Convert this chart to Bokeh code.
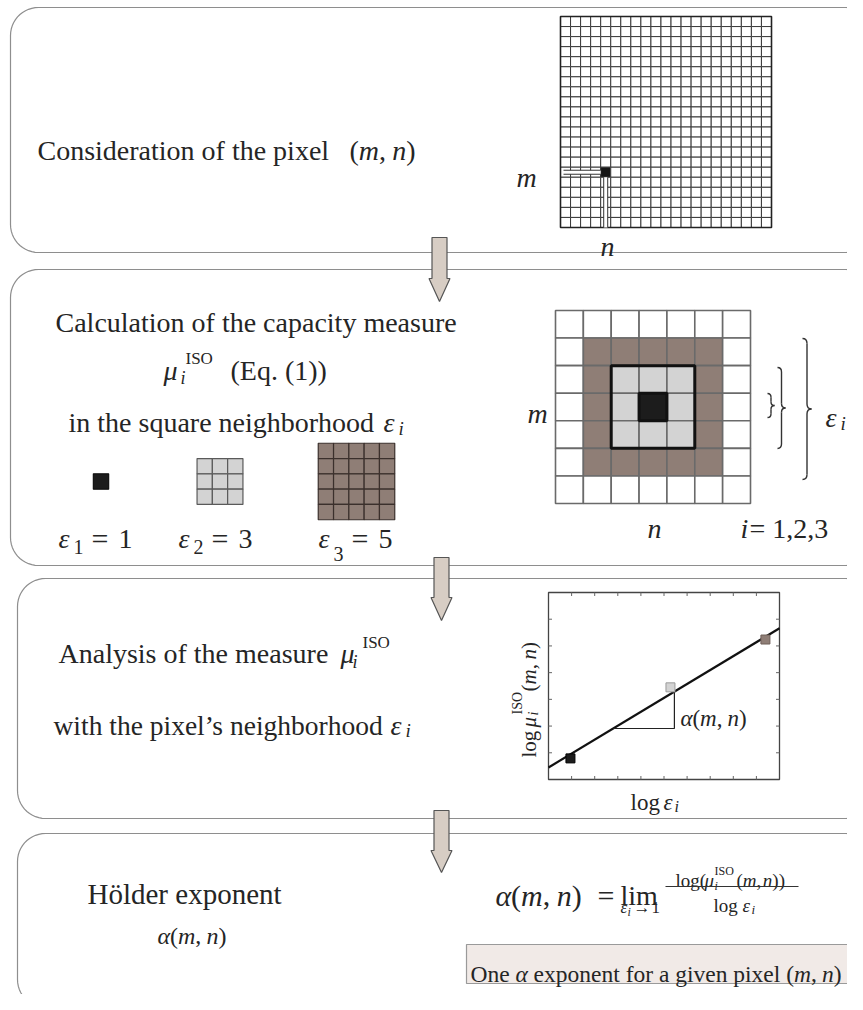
import numpy as np
from bokeh.plotting import figure
from bokeh.models import Range1d
from bokeh.core.properties import value
from bokeh.embed import file_html
from bokeh.resources import INLINE

# ---------------- data ----------------
GRID_N = 21                 # image grid in step 1
PIXEL_ROW, PIXEL_COL = 15, 4
NEIGH_N = 7                 # neighbourhood grid in step 2
EPS = [1, 3, 5]             # square neighbourhood sizes
EPS_COLORS = ["#1c1c1c", "#d3d3d3", "#8f7e76"]
EPS_EDGE = ["#111111", "#5a5a5a", "#3b302c"]
LOG_EPS = [0.95, 5.28, 9.39]        # log eps_i (inset axis units 0..10)
LOG_MU = [0.79, 3.45, 5.24]         # log mu_i (inset axis units 0..7)
FIT_X = [0.0, 10.0]
FIT_Y = [0.45, 5.66]
TRI_X = [2.81, 5.45, 5.45]
TRI_Y = [1.91, 1.91, 3.33]
X_TICKS = list(range(1, 10))
Y_TICKS = list(range(1, 7))
STEP_TEXT = ["Consideration of the pixel", "Calculation of the capacity measure",
             "in the square neighborhood", "Analysis of the measure",
             "with the pixel\u2019s neighborhood", "H\u00f6lder exponent"]

FONT = "Liberation Serif"
INK = "#252525"

# ---------------- canvas ----------------
p = figure(width=847, height=994, x_range=Range1d(0, 847), y_range=Range1d(-994, 0),
           output_backend="svg", toolbar_location=None, min_border=0)
p.axis.visible = False
p.grid.visible = False
p.outline_line_color = None
p.background_fill_color = "white"

ROMAN_W = {' ': 250, '(': 333, ')': 333, ',': 250, '.': 250, '\u2019': 333, '=': 564,
           'A': 722, 'C': 667, 'E': 611, 'H': 722, 'I': 333, 'O': 722, 'S': 556,
           'a': 444, 'b': 500, 'c': 444, 'd': 500, 'e': 444, 'f': 333, 'g': 500, 'h': 500,
           'i': 278, 'l': 278, 'm': 778, 'n': 500, 'o': 500, 'p': 500, 'q': 500, 'r': 333,
           's': 389, 't': 278, 'u': 500, 'v': 500, 'w': 722, 'x': 500, 'y': 500, '\u00f6': 500,
           '\u2192': 1000}
ITALIC_W = {'m': 722, 'n': 500, 'i': 278, '\u03b1': 520, '\u03b5': 430, '\u03bc': 520}


def tw(s, size, italic=False):
    tot = 0
    for ch in s:
        if italic and ch in ITALIC_W:
            tot += ITALIC_W[ch]
        else:
            tot += ROMAN_W.get(ch, 500)
    return tot / 1000.0 * size


def put(x, py, s, size, italic=False, angle=0.0, align="left", color=INK):
    p.text(x=[x], y=[-py], text=[s], angle=angle, text_font=value(FONT),
           text_font_size=f"{size:.1f}px", text_font_style="italic" if italic else "normal",
           text_align=align, text_baseline="alphabetic", text_color=color)


def seq(x, py, size, items):
    for it in items:
        s, ital = it[0], bool(it[1])
        sc = it[2] if len(it) > 2 else 1.0
        dy = it[3] if len(it) > 3 else 0
        gap = it[4] if len(it) > 4 else 0
        x += gap
        lead = len(s) - len(s.lstrip(" "))
        x += lead * tw(" ", size * sc)
        s = s.lstrip(" ")
        if s.strip():
            put(x, py + dy, s.rstrip(" "), size * sc, ital)
        x += tw(s, size * sc, ital)
    return x


def mn(x, py, size, lead=(), gap=0.22, tail=()):
    items = list(lead) + [("(", 0), ("m", 1), (",", 0), ("n", 1, 1.0, 0, size * gap), (")", 0)] + list(tail)
    return seq(x, py, size, items)


def rounded(x0, y0, x1, y1, r, n=14):
    xs, ys = [], []
    for cx, cy, a0 in [(x0 + r, y0 + r, np.pi), (x1 - r, y0 + r, 1.5 * np.pi),
                       (x1 - r, y1 - r, 0.0), (x0 + r, y1 - r, 0.5 * np.pi)]:
        t = np.linspace(a0, a0 + 0.5 * np.pi, n)
        xs.extend(cx + r * np.cos(t))
        ys.extend(-(cy + r * np.sin(t)))
    return xs, ys


# ---------------- panels ----------------
PANELS = [(10, 7, 874, 252), (10, 269, 874, 565), (17, 578, 874, 818), (17, 833, 874, 1007)]
for (x0, y0, x1, y1) in PANELS:
    xs, ys = rounded(x0, y0, x1, y1, 28)
    p.patch(xs, ys, fill_color="white", line_color="#8e8e8e", line_width=1.2)

# ---------------- step 1 : image grid ----------------
G_L, G_T, G_S = 560.0, 16.0, 211.0
c1 = G_S / GRID_N
rows, cols = np.meshgrid(np.arange(GRID_N), np.arange(GRID_N), indexing="ij")
rows, cols = rows.ravel(), cols.ravel()
fills = ["#161616" if (r == PIXEL_ROW and c == PIXEL_COL) else "white" for r, c in zip(rows, cols)]
p.rect(x=G_L + (cols + 0.5) * c1, y=-(G_T + (rows + 0.5) * c1), width=c1, height=c1,
       fill_color=fills, line_color="#3a3a3a", line_width=1)
p.rect(x=G_L + G_S / 2, y=-(G_T + G_S / 2), width=G_S, height=G_S, fill_color=None,
       line_color="#222222", line_width=1.6)
py_mid = G_T + (PIXEL_ROW + 0.5) * c1
px_mid = G_L + (PIXEL_COL + 0.5) * c1
p.quad(left=G_L + 3, right=G_L + PIXEL_COL * c1, top=-(py_mid - 2), bottom=-(py_mid + 2),
       fill_color="white", line_color=None)
p.quad(left=px_mid - 2, right=px_mid + 2, top=-(G_T + (PIXEL_ROW + 1) * c1), bottom=-(G_T + G_S),
       fill_color="white", line_color=None)
p.segment(x0=[G_L + 3, G_L + 3, px_mid - 2, px_mid + 2],
          y0=[-(py_mid - 2), -(py_mid + 2), -(G_T + (PIXEL_ROW + 1) * c1), -(G_T + (PIXEL_ROW + 1) * c1)],
          x1=[G_L + PIXEL_COL * c1, G_L + PIXEL_COL * c1, px_mid - 2, px_mid + 2],
          y1=[-(py_mid - 2), -(py_mid + 2), -(G_T + G_S), -(G_T + G_S)],
          line_color="#333333", line_width=1)

seq(37, 150, 28, [(STEP_TEXT[0], 0)])
mn(349, 150, 28)
put(516, 177, "m", 28, True)
put(600, 246, "n", 28, True)

# ---------------- step 2 ----------------
seq(55, 322, 28, [(STEP_TEXT[1], 0)])
put(163, 370, "\u03bc", 28, True)
put(180, 377, "i", 18, True)
put(185, 358, "ISO", 17)
put(230, 370, "(Eq. (1))", 28)
seq(68, 422, 28, [(STEP_TEXT[2], 0)])
put(383, 422, "\u03b5", 28, True)
put(398, 428, "i", 19, True)

# small neighbourhood squares
SQ_CX = [100.5, 219.5, 356.0]
SQ_CY = 481.0
cs = 15.3
for e, cx, fc, lc in zip(EPS, SQ_CX, EPS_COLORS, EPS_EDGE):
    rr, cc = np.meshgrid(np.arange(e), np.arange(e), indexing="ij")
    rr, cc = rr.ravel(), cc.ravel()
    p.rect(x=cx + (cc - (e - 1) / 2) * cs, y=-(SQ_CY + (rr - (e - 1) / 2) * cs), width=cs, height=cs,
           fill_color=fc, line_color=lc, line_width=1.2)

LBL_X = [58, 178, 318]
SUB_DY = [8, 8, 15]
for k, (e, x, sdy) in enumerate(zip(EPS, LBL_X, SUB_DY)):
    put(x, 538, "\u03b5", 28, True)
    put(x + 15, 538 + sdy, str(k + 1), 20)
    put(x + 33, 538, "=", 30)
    put(x + 60, 538, str(e), 28)

# neighbourhood grid 7x7
N_L, N_T, N_W, N_H = 555.0, 310.0, 195.0, 193.0
cw, ch = N_W / NEIGH_N, N_H / NEIGH_N
rows, cols = np.meshgrid(np.arange(NEIGH_N), np.arange(NEIGH_N), indexing="ij")
rows, cols = rows.ravel(), cols.ravel()
ring = np.maximum(np.abs(rows - 3), np.abs(cols - 3))
ring_col = {0: EPS_COLORS[0], 1: EPS_COLORS[1], 2: EPS_COLORS[2], 3: "white"}
p.rect(x=N_L + (cols + 0.5) * cw, y=-(N_T + (rows + 0.5) * ch), width=cw, height=ch,
       fill_color=[ring_col[int(k)] for k in ring], line_color="#6a6a6a", line_width=1.6)
p.rect(x=N_L + 3.5 * cw, y=-(N_T + 3.5 * ch), width=3 * cw, height=3 * ch, fill_color=None,
       line_color="#111111", line_width=3)
p.rect(x=N_L + 3.5 * cw, y=-(N_T + 3.5 * ch), width=cw, height=ch, fill_color=None,
       line_color="#111111", line_width=3)
put(527, 413, "m", 28, True)
put(647, 528, "n", 28, True)
put(740, 528, "i", 28, True)
put(749, 528, "= 1,2,3", 28)
put(825, 417, "\u03b5", 28, True)
put(840, 423, "i", 19, True)

# braces
BR_X = [767, 777, 802]
BR_TOP = [393, 367, 338]
BR_BOT = [417, 448, 479]
BR_W = [7, 8, 9]
qx0, qy0, qx1, qy1, qcx, qcy = [], [], [], [], [], []
sx0, sy0, sx1, sy1 = [], [], [], []
for x, t, b, w in zip(BR_X, BR_TOP, BR_BOT, BR_W):
    xm, tip, ym, d = x + w / 2, x + w, (t + b) / 2, w * 0.55
    for a, bpt, c in [((x, t), (xm, t + d), (xm, t)), ((xm, ym - d), (tip, ym), (xm, ym)),
                      ((tip, ym), (xm, ym + d), (xm, ym)), ((xm, b - d), (x, b), (xm, b))]:
        qx0.append(a[0]); qy0.append(-a[1]); qx1.append(bpt[0]); qy1.append(-bpt[1])
        qcx.append(c[0]); qcy.append(-c[1])
    sx0 += [xm, xm]; sx1 += [xm, xm]
    sy0 += [-(t + d), -(ym + d)]; sy1 += [-(ym - d), -(b - d)]
p.quadratic(x0=qx0, y0=qy0, x1=qx1, y1=qy1, cx=qcx, cy=qcy, line_color="#333333", line_width=1.4)
p.segment(x0=sx0, y0=sy0, x1=sx1, y1=sy1, line_color="#333333", line_width=1.4)

# ---------------- step 3 ----------------
seq(58, 653, 28, [(STEP_TEXT[3], 0)])
put(340, 653, "\u03bc", 28, True)
put(352, 661, "i", 18, True)
put(362, 642, "ISO", 17)
seq(53, 725, 27.5, [(STEP_TEXT[4], 0)])
put(390, 725, "\u03b5", 28, True)
put(405, 730, "i", 19, True)

# inset log-log plot
FX0, FX1, FY0, FY1 = 548.0, 779.0, 779.0, 592.0
XMAX, YMAX = 10.0, 7.0


def ix(v):
    return FX0 + np.asarray(v, dtype=float) / XMAX * (FX1 - FX0)


def iy(v):
    return -(FY0 - np.asarray(v, dtype=float) / YMAX * (FY0 - FY1))


p.quad(left=FX0, right=FX1, top=-FY1, bottom=-FY0, fill_color="white", line_color="#444444", line_width=1.3)
tx = ix(X_TICKS)
p.segment(x0=tx, y0=[-FY0] * len(tx), x1=tx, y1=[-FY0 + 3.5] * len(tx), line_color="#666666")
p.segment(x0=tx, y0=[-FY1] * len(tx), x1=tx, y1=[-FY1 - 3.5] * len(tx), line_color="#666666")
ty = iy(Y_TICKS)
p.segment(x0=[FX0] * len(ty), y0=ty, x1=[FX0 + 3.5] * len(ty), y1=ty, line_color="#666666")
p.segment(x0=[FX1] * len(ty), y0=ty, x1=[FX1 - 3.5] * len(ty), y1=ty, line_color="#666666")
p.line(ix(FIT_X), iy(FIT_Y), line_color="#111111", line_width=2.2)
p.line(ix(TRI_X), iy(TRI_Y), line_color="#222222", line_width=1.2)
p.scatter(ix(LOG_EPS), iy(LOG_MU), marker="square", size=9, fill_color=EPS_COLORS,
          line_color=["#000000", "#9a9a9a", "#6e5f58"], line_width=1)
mn(680, 718, 23, lead=[("\u03b1", 1)])
put(630, 802, "log", 23)
put(663, 802, "\u03b5", 23, True)
put(674, 806, "i", 16, True)
# rotated y label
R90 = np.pi / 2
put(528, 757, "log", 21, angle=R90)
put(528, 727, "\u03bc", 21, True, angle=R90)
put(533, 715, "i", 14, True, angle=R90)
put(517, 714, "ISO", 14, angle=R90)
yy = 691.0
for s, it, g in [("(", 0, 0), ("m", 1, 0), (",", 0, 0), ("n", 1, 4.5), (")", 0, 0)]:
    yy -= g
    put(528, yy, s, 21, bool(it), angle=R90)
    yy -= tw(s, 21, bool(it))

# ---------------- step 4 ----------------
seq(87, 893, 29, [(STEP_TEXT[5], 0)])
mn(157, 935, 24, lead=[("\u03b1", 1)])
mn(495, 895, 30, lead=[("\u03b1", 1)])
put(597, 895, "=", 30)
put(620, 895, "lim", 28)
put(620, 907, "\u03b5", 17, True)
put(627, 911, "i", 12, True)
put(633, 907, "\u2192", 17)
put(651, 907, "1", 17)
put(675, 880, "log(", 19)
put(704, 880, "\u03bc", 19, True)
put(714, 870, "ISO", 12)
put(714, 885, "i", 12, True)
mn(736, 880, 19, gap=0.08, tail=[(")", 0)])
p.segment(x0=[665], y0=[-886], x1=[798], y1=[-886], line_color="#333333", line_width=1.2)
put(713, 905, "log", 19)
put(742, 905, "\u03b5", 19, True)
put(751, 909, "i", 13, True)

p.quad(left=466, right=861, top=-944, bottom=-983, fill_color="#f1eae7", line_color="#9a9a9a", line_width=1.2)
x = seq(470, 973, 23.5, [("One ", 0), ("\u03b1", 1), (" exponent for a given pixel ", 0)])
mn(x, 973, 23.5)

# ---------------- arrows ----------------
AR_CX = [439, 441, 441]
AR_TOP = [237, 557, 810]
AR_HEAD = [278, 597, 850]
AR_TIP = [301, 620, 872]
hw, hh = 7.5, 10.5
axs, ays = [], []
for cx, t, hd, tp in zip(AR_CX, AR_TOP, AR_HEAD, AR_TIP):
    axs.append([cx - hw, cx + hw, cx + hw, cx + hh, cx, cx - hh, cx - hw])
    ays.append([-t, -t, -hd, -hd, -tp, -hd, -hd])
p.patches(axs, ays, fill_color="#d7cdc4", line_color="#555555", line_width=1.2)

open("out.html", "w").write(file_html(p, INLINE))
